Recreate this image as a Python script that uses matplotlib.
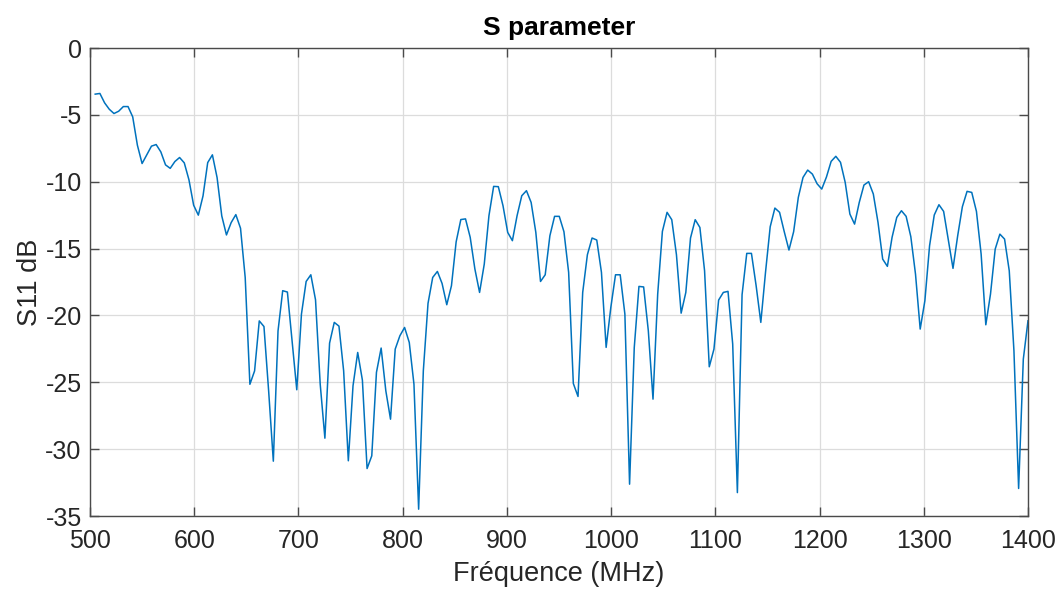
import numpy as np
import matplotlib
matplotlib.use('Agg')
import matplotlib.pyplot as plt

plt.rcParams['font.family'] = ['Liberation Sans', 'DejaVu Sans']
plt.rcParams['axes.unicode_minus'] = False

# frequency grid (MHz) and S11 (dB)
f_start = 505
f_stop = 1400
n_points = 200

s11_db = [
    -3.45, -3.40, -4.10, -4.58, -4.90, -4.73, -4.38, -4.38, -5.15, -7.27,
    -8.64, -7.99, -7.34, -7.22, -7.77, -8.74, -9.00, -8.49, -8.19, -8.59,
    -9.86, -11.76, -12.50, -11.06, -8.57, -7.99, -9.69, -12.56, -13.98, -13.06,
    -12.46, -13.48, -17.17, -25.15, -24.15, -20.41, -20.83, -25.65, -30.90, -21.16,
    -18.15, -18.25, -21.90, -25.56, -19.90, -17.46, -16.96, -18.83, -25.14, -29.18,
    -22.07, -20.52, -20.80, -24.14, -30.87, -25.26, -22.77, -24.84, -31.45, -30.50,
    -24.26, -22.44, -25.64, -27.76, -22.52, -21.52, -20.90, -22.02, -25.14, -34.49,
    -24.14, -19.10, -17.16, -16.71, -17.61, -19.20, -17.78, -14.50, -12.83, -12.78,
    -14.16, -16.53, -18.28, -16.16, -12.54, -10.35, -10.37, -11.80, -13.79, -14.41,
    -12.54, -11.05, -10.67, -11.55, -13.79, -17.46, -16.96, -14.04, -12.59, -12.59,
    -13.74, -16.78, -25.09, -26.06, -18.28, -15.46, -14.21, -14.36, -16.78, -22.39,
    -19.40, -16.96, -16.96, -19.90, -32.62, -22.40, -17.83, -17.87, -21.15, -26.26,
    -18.40, -13.72, -12.29, -12.84, -15.46, -19.83, -18.28, -14.21, -12.84, -13.42,
    -16.66, -23.84, -22.52, -18.85, -18.28, -18.20, -22.14, -33.25, -18.45, -15.36,
    -15.36, -17.78, -20.52, -16.78, -13.37, -11.97, -12.29, -13.74, -15.11, -13.74,
    -11.17, -9.68, -9.13, -9.43, -10.15, -10.55, -9.65, -8.48, -8.10, -8.55,
    -10.05, -12.42, -13.17, -11.55, -10.25, -10.00, -10.92, -13.04, -15.79, -16.33,
    -14.16, -12.67, -12.17, -12.59, -14.11, -16.91, -21.02, -18.90, -14.79, -12.49,
    -11.72, -12.22, -14.36, -16.48, -14.04, -11.87, -10.72, -10.80, -12.22, -15.41,
    -20.70, -18.40, -15.04, -13.92, -14.29, -16.66, -22.64, -32.94, -23.27, -20.40,
]

x_ticks = [500, 600, 700, 800, 900, 1000, 1100, 1200, 1300, 1400]
y_ticks = [0, -5, -10, -15, -20, -25, -30, -35]

freq = np.linspace(f_start, f_stop, n_points)

fig = plt.figure(figsize=(10.59, 5.90), dpi=100)
ax = fig.add_axes([90 / 1059, 1 - 516 / 590, 938 / 1059, 468 / 590])

ax.plot(freq, s11_db, color='#0072BD', linewidth=1.1)

ax.set_xlim(500, 1400)
ax.set_ylim(-35, 0)
ax.set_xticks(x_ticks)
ax.set_yticks(y_ticks)

ax.grid(True, color='#dcdcdc', linewidth=0.9)
ax.set_axisbelow(True)

for sp in ax.spines.values():
    sp.set_color('#4a4a4a')
    sp.set_linewidth(1.0)

ax.tick_params(direction='in', length=6.5, width=1.0, color='#4a4a4a',
               labelsize=18, labelcolor='#262626', top=True, right=True)
ax.tick_params(axis='x', pad=9)
ax.tick_params(axis='y', pad=6)

ax.set_title('S parameter', fontsize=19, fontweight='bold', pad=9)
ax.set_xlabel('Fréquence (MHz)', fontsize=19.5, color='#262626', labelpad=6)
ax.set_ylabel('S11 dB', fontsize=19.5, color='#262626', labelpad=2)

fig.savefig('out.png', dpi=100)
